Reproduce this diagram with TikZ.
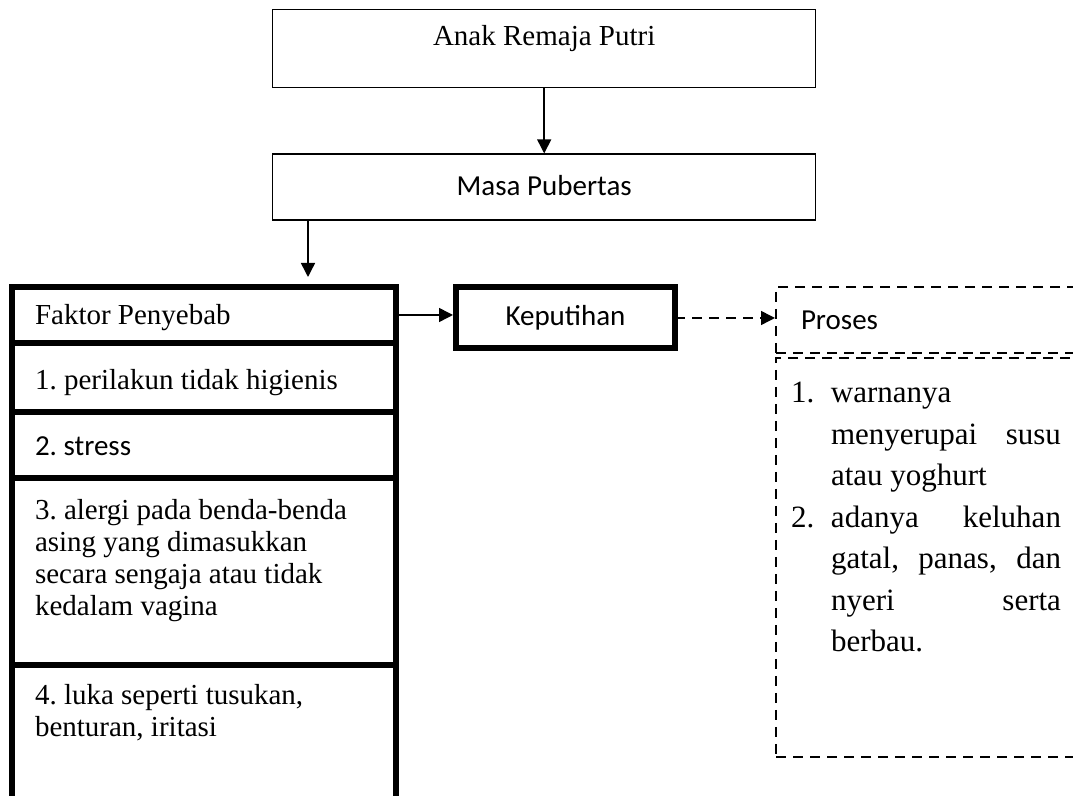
\documentclass[tikz,border=0pt]{standalone}
\usepackage{fontspec}
\setmainfont{Liberation Serif}
\newfontfamily\calibri{Carlito}
\usepackage{tikz}
\usetikzlibrary{arrows.meta}
\usetikzlibrary{positioning}

\newcommand{\midsize}{\fontsize{14.5pt}{16pt}\selectfont}
\newcommand{\bigsize}{\fontsize{15.5pt}{20.75pt}\selectfont}
\newcommand{\listline}[1]{\hspace*{20pt}\makebox[115pt][l]{#1}}

\begin{document}
\begin{tikzpicture}[x=0.5pt, y=0.5pt, >={Triangle[length=7pt, width=7pt]}, line width=0.75pt,
        plain space/.style={execute at begin node={\frenchspacing\spaceskip=0pt\relax\xspaceskip=0pt\relax}},
        topbox/.style={draw, line width=0.7pt, minimum width=271.5pt, inner sep=0pt, font=\midsize},
        cell/.style={draw, line width=3pt, outer sep=0pt, anchor=north, text width=169pt,
                     inner xsep=11.5pt, inner ysep=0pt, align=left, plain space, font=\midsize},
        mainbox/.style={draw, line width=3pt, outer sep=0pt, minimum width=109.5pt,
                        minimum height=30.5pt, font=\midsize\calibri},
        dashbox/.style={draw, line width=1pt, dash pattern=on 5pt off 3.5pt, outer sep=0pt,
                        text width=140pt, inner xsep=12.5pt, align=left, plain space}]
        \useasboundingbox (0,0) rectangle (1073,-796);
        \clip (0,0) rectangle (1073,-796);

        \node[topbox, anchor=north west, text height=18pt, text depth=21pt] (anak) at (272,-9) {Anak Remaja Putri};
        \node[topbox, below=32.5pt of anak, text height=20.5pt, text depth=12.5pt, font=\midsize\calibri] (masa) {Masa Pubertas};

        % faktor penyebab
        \node[cell, anchor=north west, text height=19pt, text depth=9pt] (faktor) at (12,-287) {Faktor Penyebab};
        \node[cell, below=0pt of faktor, text height=23.5pt, text depth=11pt] (sebab1) {1. perilakun tidak higienis};
        \node[cell, below=0pt of sebab1, text height=22pt, text depth=11pt] (sebab2) {\calibri 2. stress};
        \node[cell, below=0pt of sebab2, text height=21pt, text depth=72.5pt] (sebab3)
            {3. alergi pada benda-benda\\ asing yang dimasukkan\\ secara sengaja atau tidak\\ kedalam vagina};
        \node[cell, below=0pt of sebab3, text height=20pt, text depth=67.5pt] (sebab4)
            {4. luka seperti tusukan,\\ benturan, iritasi};

        \node[mainbox, right=30pt of faktor, yshift=-1.5pt] (kep) {Keputihan};

        % proses
        \node[dashbox, right=50.5pt of kep, yshift=-1pt, minimum height=33pt, font=\midsize\calibri] (proses) {Proses};
        \node[dashbox, below=2.5pt of proses, text width=150pt, inner xsep=7.5pt, inner ysep=0pt,
              text height=22.5pt, text depth=177pt, font=\bigsize] (ciri)
            {\makebox[20pt][l]{1.}warnanya\\
             \listline{menyerupai\hfill susu}\\
             \hspace*{20pt}atau yoghurt\\
             \makebox[20pt][l]{2.}\makebox[115pt][l]{adanya\hfill keluhan}\\
             \listline{gatal,\hfill panas,\hfill dan}\\
             \listline{nyeri\hfill serta}\\
             \hspace*{20pt}berbau.};

        \draw[->] (anak) -- (masa);
        \draw[->, shorten >=5pt] ([xshift=18pt]masa.south west) -- ([xshift=18pt]masa.south west |- faktor.north);
        \draw[->, shorten >=1.5pt] (faktor.east) -- (faktor.east -| kep.west);
        \draw[->, dash pattern=on 5pt off 3.5pt, shorten >=0.5pt] (kep.east) -- (kep.east -| proses.west);
\end{tikzpicture}
\end{document}
